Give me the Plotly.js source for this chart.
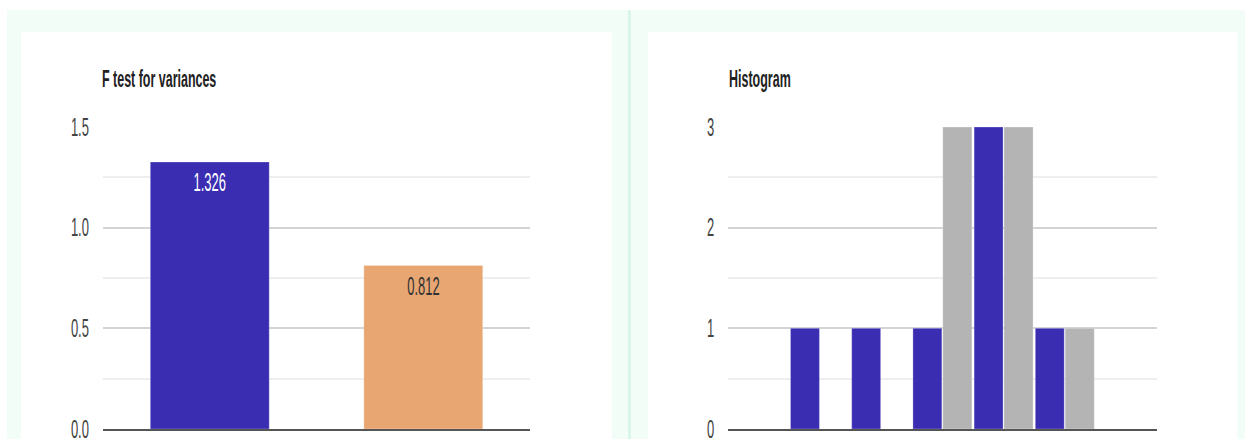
<!DOCTYPE html>
<html>
<head>
<meta charset="utf-8">
<script src="https://cdn.plot.ly/plotly-3.0.1.min.js"></script>
<style>
  html, body { margin: 0; padding: 0; overflow: hidden; background: #ffffff; }
  /* the dashboard text is drawn narrow: the plot is laid out wide and squeezed horizontally */
  #wrap { width: 1251px; height: 439px; overflow: hidden; }
  #chart { transform-origin: 0 0; }
</style>
</head>
<body>
<div id="wrap"><div id="chart"></div></div>
<script>
// F test for variances
const fCategories = ['Sample 1', 'Sample 2'];
const fValues = [1.326, 0.812];
const fColors = ['#3a2db2', '#e8a673'];
const fLabelColors = ['#ffffff', '#333333'];

// Histogram (two series over the same bins)
const histBins = ['1', '2', '3', '4', '5', '6', '7'];
const histSeriesA = [0, 1, 1, 1, 3, 1, 0];
const histSeriesB = [0, 0, 0, 3, 3, 1, 0];

const leftTicks = [0, 0.5, 1.0, 1.5];
const leftTickText = ['0.0', '0.5', '1.0', '1.5'];
const rightTicks = [0, 1, 2, 3];
const rightTickText = ['0', '1', '2', '3'];

const SX = 0.52;           // horizontal squeeze of the drawing
const W = 1251, H = 439;
const PW = W / SX;
const px = v => v / W;      // page x -> paper fraction
const py = v => 1 - v / H;  // page y -> paper fraction

const FONT = '"Liberation Sans", Arial, sans-serif';

const traces = [
  {
    type: 'bar', x: fCategories, y: fValues, xaxis: 'x', yaxis: 'y',
    width: 0.557,
    marker: { color: fColors, line: { width: 1, color: 'rgba(255,255,255,0.35)' } },
    hoverinfo: 'none'
  },
  {
    type: 'bar', x: histBins, y: histSeriesA, xaxis: 'x2', yaxis: 'y2',
    width: 0.473, offset: -0.485,
    marker: { color: '#3a2db2', line: { width: 1, color: 'rgba(255,255,255,0.35)' } },
    hoverinfo: 'none'
  },
  {
    type: 'bar', x: histBins, y: histSeriesB, xaxis: 'x2', yaxis: 'y2',
    width: 0.475, offset: 0.003,
    marker: { color: '#b4b4b4', line: { width: 1, color: 'rgba(255,255,255,0.35)' } },
    hoverinfo: 'none'
  }
];

const yCommon = {
  tickfont: { family: FONT, size: 25, color: '#444444' },
  showgrid: true, gridcolor: '#d4d4d4', gridwidth: 2,
  zeroline: false, showline: false, ticks: '',
  ticklabelstandoff: 26, ticklabeloverflow: 'allow', fixedrange: true
};
const xCommon = {
  showticklabels: false, showgrid: false, zeroline: false, ticks: '',
  showline: true, linecolor: '#555555', linewidth: 2, fixedrange: true
};

const layout = {
  width: PW, height: H,
  margin: { l: 0, r: 0, t: 0, b: 0 },
  paper_bgcolor: '#ffffff',
  plot_bgcolor: 'rgba(0,0,0,0)',
  showlegend: false,
  barmode: 'overlay',
  xaxis: Object.assign({}, xCommon, {
    domain: [px(103), px(530)], type: 'category', range: [-0.5, 1.5], anchor: 'y'
  }),
  yaxis: Object.assign({}, yCommon, {
    domain: [py(429), py(127)], range: [0, 1.5],
    tickvals: leftTicks, ticktext: leftTickText, anchor: 'x',
    minor: { tick0: 0, dtick: 0.25, showgrid: true, gridcolor: '#eeeeee', gridwidth: 2, ticks: '' }
  }),
  xaxis2: Object.assign({}, xCommon, {
    domain: [px(728.3), px(1156.7)], type: 'category', range: [-0.5, 6.5], anchor: 'y2'
  }),
  yaxis2: Object.assign({}, yCommon, {
    domain: [py(429), py(127)], range: [0, 3],
    tickvals: rightTicks, ticktext: rightTickText, anchor: 'x2',
    minor: { tick0: 0, dtick: 0.5, showgrid: true, gridcolor: '#eeeeee', gridwidth: 2, ticks: '' }
  }),
  shapes: [
    // mint dashboard background
    { type: 'rect', xref: 'paper', yref: 'paper', layer: 'below',
      x0: px(7), x1: px(1245), y0: 0, y1: py(10),
      fillcolor: '#f3fdf7', line: { width: 0 } },
    // white card, left
    { type: 'rect', xref: 'paper', yref: 'paper', layer: 'below',
      x0: px(21), x1: px(612), y0: 0, y1: py(32),
      fillcolor: '#ffffff', line: { width: 0 } },
    // white card, right
    { type: 'rect', xref: 'paper', yref: 'paper', layer: 'below',
      x0: px(648), x1: px(1237), y0: 0, y1: py(32),
      fillcolor: '#ffffff', line: { width: 0 } },
    // divider between the cards
    { type: 'rect', xref: 'paper', yref: 'paper', layer: 'below',
      x0: px(628.3), x1: px(630.5), y0: 0, y1: py(10),
      fillcolor: '#d3f3e4', line: { width: 0 } }
  ],
  annotations: [
    { xref: 'paper', yref: 'paper', x: px(101), y: py(79), xanchor: 'left', yanchor: 'middle',
      text: '<b>F test for variances</b>', showarrow: false,
      font: { family: FONT, size: 24, color: '#222222' } },
    { xref: 'paper', yref: 'paper', x: px(728), y: py(79), xanchor: 'left', yanchor: 'middle',
      text: '<b>Histogram</b>', showarrow: false,
      font: { family: FONT, size: 24, color: '#222222' } }
  ].concat(fValues.map((v, i) => ({
    xref: 'x', yref: 'y', x: fCategories[i], y: v,
    xanchor: 'center', yanchor: 'top', yshift: -4,
    text: v.toFixed(3), showarrow: false,
    font: { family: FONT, size: 25, color: fLabelColors[i] }
  })))
};

const el = document.getElementById('chart');
el.style.width = PW + 'px';
el.style.height = H + 'px';
el.style.transform = 'scaleX(' + SX + ')';
Plotly.newPlot(el, traces, layout, { displayModeBar: false, staticPlot: true });
</script>
</body>
</html>
